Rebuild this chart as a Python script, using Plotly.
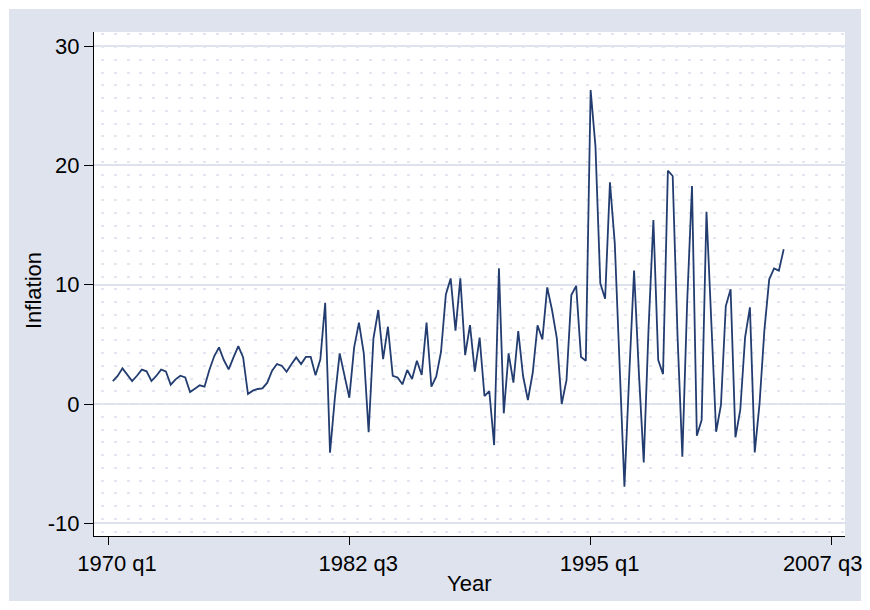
import plotly.graph_objects as go

# Quarterly inflation series, 1970q2 .. 2005q1 (Stata %tq: 1970q1 = 40)
start_quarter = 41  # 1970q2
inflation = [
    1.93, 2.35, 2.99, 2.49, 1.93, 2.37, 2.88, 2.74, 1.93, 2.35,
    2.88, 2.74, 1.62, 2.07, 2.37, 2.23, 1.00, 1.28, 1.57, 1.45,
    2.85, 4.00, 4.75, 3.69, 2.91, 3.91, 4.86, 3.91, 0.84, 1.12,
    1.26, 1.31, 1.79, 2.79, 3.35, 3.21, 2.71, 3.33, 3.91, 3.35,
    3.95, 3.95, 2.42, 3.75, 8.49, -4.08, 0.50, 4.25, 2.43, 0.53,
    4.75, 6.82, 4.25, -2.37, 5.50, 7.88, 3.77, 6.48, 2.37, 2.23,
    1.65, 2.85, 2.10, 3.63, 2.43, 6.82, 1.45, 2.29, 4.38, 9.19,
    10.53, 6.15, 10.53, 4.10, 6.62, 2.71, 5.57, 0.67, 1.09, -3.44,
    11.37, -0.78, 4.25, 1.79, 6.12, 2.35, 0.34, 2.62, 6.60, 5.42,
    9.78, 7.88, 5.50, 0.00, 2.00, 9.14, 9.90, 3.94, 3.63, 26.32,
    21.57, 10.12, 8.83, 18.58, 13.47, 3.00, -6.93, 2.50, 11.18, 2.57,
    -4.89, 6.34, 15.42, 3.69, 2.51, 19.56, 19.11, 5.73, -4.41, 8.55,
    18.27, -2.66, -1.35, 16.12, 6.80, -2.32, -0.08, 8.21, 9.61, -2.79,
    -0.50, 5.59, 8.10, -4.05, 0.06, 6.20, 10.45, 11.37, 11.18, 12.97,
]
quarters = list(range(start_quarter, start_quarter + len(inflation)))

x_tickvals = [40, 90, 140, 190]
x_ticktext = ["1970 q1", "1982 q3", "1995 q1", "2007 q3" + "\u00a0" * 6]
y_tickvals = [-10, 0, 10, 20, 30]
y_ticktext = ["-10", "0", "10", "20", "30"]
x_title = "Year"
y_title = "Inflation"

BG = "#dfe3ee"
GRID = "#dde2ee"
DOT = "#e3e7f2"
LINE = "#233d70"

# page offset (browser body margin) compensation
OFF = 8
W, H = 870, 610
# plot-area geometry in figure pixels
L, R, T, B = 94 - OFF, 845 - OFF, 32 - OFF, 536 - OFF
pw, ph = R - L, B - T
ZERO_PX = 404 - OFF
# grey graph-region edges in figure pixels
GX0, GY0, GX1, GY1 = 9 - OFF, 9 - OFF, 861 - OFF, 601 - OFF

fig = go.Figure()
fig.add_trace(go.Scatter(
    x=quarters, y=inflation, mode="lines",
    line=dict(color=LINE, width=1.8), hoverinfo="skip", showlegend=False,
))
# invisible trace to activate the dot-pattern overlay axis
fig.add_trace(go.Scatter(x=[None], y=[None], yaxis="y2", showlegend=False,
                         hoverinfo="skip"))

dash = "0px,7.2px," + ",".join(["3px,9.75px"] * 62)


def px_x(p):
    return (p - L) / pw


def px_y(p):
    return (B - p) / ph


frame = []
for x0, y0, x1, y1 in [
    (0, 0, W, GY0), (0, GY1, W, H),
    (0, 0, GX0, H), (GX1, 0, W, H),
]:
    frame.append(dict(
        type="rect", xref="paper", yref="paper", layer="below",
        x0=px_x(x0), x1=px_x(x1), y0=px_y(y1), y1=px_y(y0),
        fillcolor="white", line=dict(width=0),
    ))

annotations = [
    dict(text=y_title, textangle=-90, xref="paper", yref="paper",
         x=px_x(33 - OFF), y=px_y(290 - OFF), xanchor="center", yanchor="middle",
         showarrow=False, font=dict(size=22)),
    dict(text=x_title, xref="paper", yref="paper",
         x=px_x(469 - OFF), y=px_y(583 - OFF), xanchor="center", yanchor="middle",
         showarrow=False, font=dict(size=22)),
]

fig.update_layout(
    width=W, height=H,
    margin=dict(l=L, r=W - R, t=T, b=H - B, pad=0, autoexpand=False),
    paper_bgcolor=BG, plot_bgcolor="white",
    font=dict(family="Liberation Sans, Arial, sans-serif", size=22, color="black"),
    showlegend=False,
    xaxis=dict(
        range=[37.1, 192.7], tickmode="array", tickvals=x_tickvals, ticktext=x_ticktext,
        ticks="outside", ticklen=8, tickwidth=1, tickcolor="black",
        showline=True, linecolor="black", linewidth=1, mirror=False,
        showgrid=False, zeroline=False, automargin=False,
        ticklabeloverflow="allow", ticklabelshift=9,
    ),
    yaxis=dict(
        range=[-11.06, 31.18], tickmode="array", tickvals=y_tickvals, ticktext=y_ticktext,
        ticks="outside", ticklen=9, tickwidth=1, tickcolor="black",
        showline=True, linecolor="black", linewidth=1, mirror=False,
        showgrid=True, gridcolor=GRID, gridwidth=1.5, zeroline=False,
        automargin=False,
    ),
    yaxis2=dict(
        overlaying="y", side="right", range=[-(B - ZERO_PX), ZERO_PX - T],
        tick0=0, dtick=12.75, showticklabels=False, ticks="",
        showgrid=True, gridcolor=DOT, gridwidth=2, griddash=dash,
        zeroline=False, showline=False, automargin=False,
    ),
    shapes=frame,
    annotations=annotations,
)

fig.write_html("out.html")
